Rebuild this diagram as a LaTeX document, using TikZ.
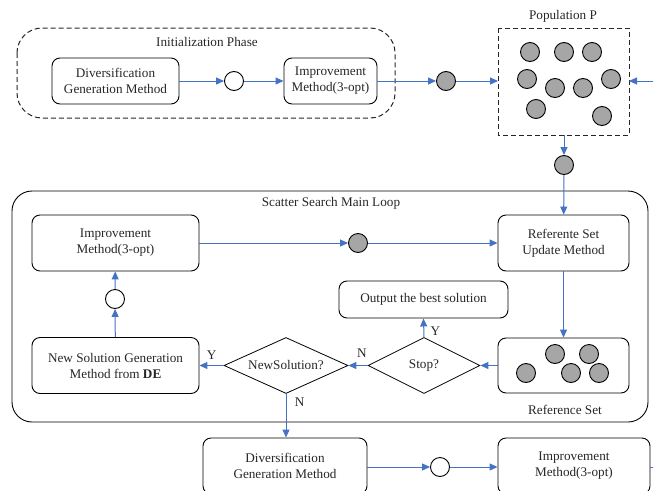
\documentclass[tikz,border=0pt]{standalone}
\usepackage{fontspec}
\setmainfont{Liberation Serif}
\usetikzlibrary{shapes.geometric,arrows.meta}
\definecolor{flow}{HTML}{4472C4}
\definecolor{dot}{HTML}{A6A6A6}
\definecolor{txt}{HTML}{262626}
\begin{document}
\begin{tikzpicture}[x=1pt,y=-1pt,
  every node/.style={text=txt,font=\fontsize{13.2}{16}\selectfont},
  box/.style={draw=black,line width=0.9pt,rounded corners=8pt,align=center,inner sep=0pt},
  dia/.style={draw=black,line width=0.8pt,diamond,aspect=2,inner sep=0pt,minimum width=112pt,minimum height=56pt},
  emp/.style={draw=black,line width=0.9pt,circle,fill=white,minimum size=19pt,inner sep=0pt},
  gry/.style={draw=black,line width=0.9pt,circle,fill=dot,minimum size=19pt,inner sep=0pt},
  arr/.style={draw=flow,line width=1pt,-{Triangle[length=8pt,width=7pt]}},
  ln/.style={draw=flow,line width=1pt},
  dsh/.style={draw=black!85,line width=1pt,dash pattern=on 5pt off 3pt}]
\useasboundingbox (0,0) rectangle (653,490);
\clip (0,0) rectangle (653,490);
% Initialization phase
\draw[dsh,rounded corners=25pt] (17,28) rectangle (395,118);
\node (initlbl) at (207,42) {Initialization Phase};
\node[box,minimum width=127pt,minimum height=46pt] (div1) at (115.5,81) {Diversification\\Generation Method};
\node[emp] (c1) at (234,81) {};
\node[box,minimum width=93pt,minimum height=46pt] (imp1) at (330.5,81) {Improvement\\Method(3-opt)};
\node[gry] (g1) at (446,81) {};
% Population
\draw[dsh] (498,28) rectangle (629,135);
\node (poplbl) at (563,16) {Population P};
\coordinate (popL) at (498,81);
\coordinate (popR) at (629,81);
\coordinate (popB) at (564,135);
\coordinate (rin) at (653,81);
\foreach \p in {(530,52),(564,52),(592,52),(527,79),(555,88),(583,88),(611,79),(536,109),(602,116)}
  \node[gry] at \p {};
\node[gry] (g2) at (564,165) {};
% main loop
\draw[line width=0.9pt,rounded corners=20pt] (12,191) rectangle (648,422);
\node (looplbl) at (331,203) {Scatter Search Main Loop};
\node[box,minimum width=167pt,minimum height=56pt] (imp2) at (115.5,243) {Improvement\\Method(3-opt)};
\node[gry] (g3) at (358,243) {};
\node[box,minimum width=131pt,minimum height=56pt] (rsu) at (563.5,243) {Referente Set\\Update Method};
\node[box,minimum width=169pt,minimum height=37pt] (out) at (423.5,299.5) {Output the best solution};
\node[dia] (stop) at (424,365.5) {Stop?};
\node[box,minimum width=131pt,minimum height=55pt] (refset) at (563.5,365.5) {};
\foreach \p in {(555,354),(589,354),(526,373),(571,373),(599,373)}
  \node[gry] at \p {};
\node (reflbl) at (565,410) {Reference Set};
\node[dia,minimum width=124pt] (news) at (286,365.5) {NewSolution?};
\node[box,minimum width=167pt,minimum height=56pt] (nsg) at (115.5,365.5) {New Solution Generation\\Method from \textbf{DE}};
\node[emp] (c2) at (115,299) {};
% bottom
\node[box,minimum width=164pt,minimum height=56pt] (div2) at (285,466) {Diversification\\Generation Method};
\node[emp] (c3) at (440,467) {};
\node[box,minimum width=152pt,minimum height=56pt] (imp3) at (574,466) {Improvement\\Method(3-opt)};
\coordinate (rout) at (653,467);
% connectors
\draw[arr] (div1) -- (c1);
\draw[arr] (c1) -- (imp1);
\draw[arr] (imp1) -- (g1);
\draw[arr] (g1) -- (popL);
\draw[arr] (rin) -- (popR);
\draw[arr] (popB) -- (g2);
\draw[arr] (g2) -- (rsu);
\draw[arr] (imp2) -- (g3);
\draw[arr] (g3) -- (rsu);
\draw[arr] (rsu) -- (refset);
\draw[arr] (refset.west) -- (stop.east);
\draw[arr] (stop.north) -- node[right,pos=0.3,xshift=3pt] (ylbl1) {Y} (out.south);
\draw[arr] (stop.west) -- node[above,yshift=4pt,pos=0.3] (nlbl1) {N} (news.east);
\draw[arr] (news.west) -- node[above,yshift=2pt] (ylbl2) {Y} (nsg.east);
\draw[arr] (nsg) -- (c2);
\draw[arr] (c2) -- (imp2);
\draw[arr] (news.south) -- node[right,pos=0.2,xshift=5pt] (nlbl2) {N} (div2.north -| news.south);
\draw[arr] (div2.east |- c3) -- (c3);
\draw[arr] (c3) -- (imp3.west |- c3);
\draw[ln] (imp3.east |- rout) -- (rout);
\end{tikzpicture}
\end{document}
